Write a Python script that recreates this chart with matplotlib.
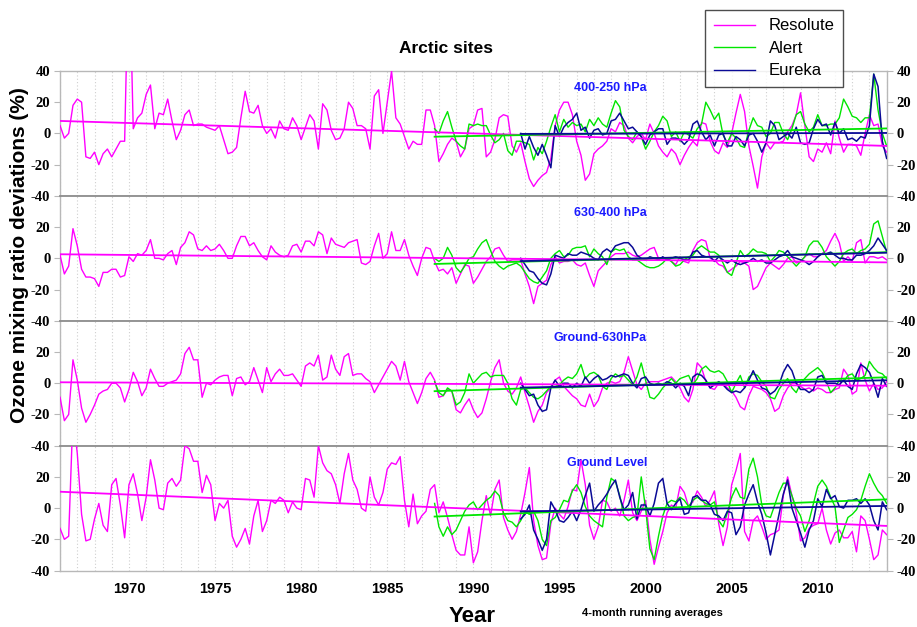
"""
Arctic sites: ozone mixing ratio deviations at Resolute, Alert and Eureka,
four pressure layers, 4-month running averages (values read off the chart).
"""

import numpy as np
import matplotlib
matplotlib.use("Agg")
import matplotlib.pyplot as plt
from matplotlib.ticker import MultipleLocator
from matplotlib.lines import Line2D

plt.rcParams["axes.unicode_minus"] = False
plt.rcParams["font.family"] = ["Liberation Sans", "DejaVu Sans"]

# quarterly samples, first value at 1966.0
START_RES = 1966.0
START_ALT = 1987.75
START_EUR = 1992.75
STEP = 0.25
END_YEAR = 2014.0

layers = ["400-250 hPa", "630-400 hPa", "Ground-630hPa", "Ground Level"]

# ---- 400-250 hPa ----
res_1 = [5, -3, 0, 18, 22, 20, -15, -16, -12, -20,
         -13, -10, -15, -10, -5, -5, 120, 3, 10, 13,
         25, 31, 3, 13, 12, 22, 8, -4, 2, 12,
         15, 5, 6, 6, 4, 3, 2, 5, -4, -13,
         -12, -9, 10, 27, 14, 13, 18, 5, 0, 3,
         -3, 8, 3, 2, 10, 5, -4, 4, 12, 8,
         -10, 19, 15, 2, -4, -3, 3, 20, 16, 5,
         5, 3, -10, 24, 28, 0, 20, 40, 10, 6,
         -2, -10, -5, -7, -7, 15, 15, 5, -18, -13,
         -7, -3, -5, -15, -10, 3, 5, 15, 16, -15,
         -12, -4, 10, 12, 11, -8, -12, -6, -18, -29,
         -34, -30, -27, -25, -16, 5, 15, 20, 20, 12,
         -5, -14, -30, -26, -13, -10, -8, -5, 3, 1,
         7, 5, -3, -6, -2, 0, -4, 6, 0, -8,
         -12, -15, -10, -13, -20, -14, -9, -5, -8, 7,
         6, -5, -11, -13, -6, -9, 0, 13, 25, 14,
         -8, -21, -35, -15, -6, -10, -6, -6, -5, 1,
         5, 12, 26, 5, -15, -18, -10, -12, -6, -13,
         8, -3, -12, -7, -7, -8, -14, 0, 12, 5,
         6, -8, -12]
alt_1 = [3, 0, 8, 14, 4, -5, -8, -10, 6, 5,
         6, 5, 5, -1, -6, -4, 0, -11, -14, -5,
         -5, -6, -7, -17, -9, -13, -5, 4, 12, 1,
         9, 4, 7, 5, 6, 1, 9, 5, 10, 6,
         4, 13, 21, 17, 2, -2, -4, 1, -2, -10,
         -5, 1, 5, 11, 8, -2, 1, -5, 1, -1,
         -3, 3, 6, 20, 15, 9, 13, -1, -6, 0,
         -3, -8, -9, 2, 10, 5, 4, -2, 0, 7,
         7, 0, -4, 3, 12, 14, 6, 1, 4, 12,
         5, 5, 6, 6, 10, 22, 17, 11, 10, 7,
         10, 10, 38, 15, 0, -8]
eur_1 = [0, -10, -2, -9, -14, -7, -14, -22, 5, -2,
         4, 7, 9, 13, 2, 4, -3, 2, 3, -1,
         0, 8, 9, 13, 8, 3, 4, 1, -2, -7,
         -1, 1, 3, 3, -7, -3, -3, -4, -7, -4,
         6, 8, 1, -4, -1, -8, -1, 0, -8, -8,
         -2, -4, -8, -1, 0, -5, -12, -6, 8, 5,
         -4, -2, 0, -3, 4, -6, -7, -6, 3, 9,
         5, 6, -1, 7, 0, 3, -4, -3, -5, -2,
         -3, 5, 38, 30, -5, -16]

# ---- 630-400 hPa ----
res_2 = [2, -10, -5, 19, 8, -7, -12, -12, -13, -18,
         -9, -9, -7, -7, -12, -11, 1, -2, 3, 2,
         5, 12, 0, 0, -1, 3, 5, -4, 7, 10,
         17, 15, 6, 5, 8, 5, 6, 9, 5, 0,
         0, 8, 14, 14, 8, 10, 5, 1, -1, 8,
         4, 2, 1, 2, 8, 9, 4, 11, 11, 8,
         17, 15, 3, 13, 9, 8, 7, 10, 11, 12,
         -3, -4, -2, 8, 16, 0, 3, 17, 5, 5,
         12, 2, -5, -11, 0, 7, 6, -2, -8, -7,
         -10, -6, -16, -10, -4, -5, -16, -12, -7, -2,
         1, 6, 7, 2, -2, -1, -1, -1, -10, -18,
         -29, -18, -16, -14, -4, 1, -3, -2, -2, -1,
         -4, -5, -3, -11, -18, -8, -5, -2, 1, 3,
         3, 3, 4, 2, 1, 2, 4, 6, 7, 0,
         -1, 0, -2, -4, 1, -2, -3, 5, 10, 12,
         11, 0, -1, -4, -5, -9, -7, -5, -2, -3,
         -5, -20, -18, -12, -6, -3, -5, -7, -4, 0,
         1, -3, -2, 1, 3, 1, 1, 3, 5, 11,
         16, 10, -2, 1, -2, 10, 12, -3, 1, 1,
         0, 1, -1]
alt_2 = [0, -2, 0, 7, 2, -6, -9, -5, 0, 1,
         6, 10, 12, 5, -2, -5, -7, -5, -4, -3,
         -5, -9, -13, -15, -16, -12, -8, 0, 3, 5,
         1, 2, 6, 7, 7, 8, 1, 6, 3, 1,
         -4, 4, 6, 5, 6, 1, -1, -1, -3, -5,
         -6, -6, -5, -3, 0, -2, -5, -4, -1, 1,
         2, 6, 8, 6, 4, 4, 2, -3, -9, -11,
         -3, 5, 1, 3, 6, 4, 4, 3, -2, 1,
         5, 4, 1, -2, -5, -2, 1, 8, 11, 11,
         7, 1, -2, -5, -2, 3, 5, 6, 3, 5,
         6, 9, 22, 24, 14, 4]
eur_2 = [0, -4, -8, -9, -13, -16, -17, -10, 2, 1,
         0, 3, 2, 2, 4, 3, 2, 0, -1, 4,
         6, 4, 8, 9, 10, 10, 7, 2, 0, -1,
         1, 0, -1, 1, -1, 0, 1, 0, -1, -1,
         4, 5, 2, 1, 1, -2, 1, -1, -3, -1,
         -3, -4, -3, -2, 0, -2, -1, -3, -3, -1,
         1, 2, 5, 1, 0, -1, -2, -4, -2, 1,
         3, 3, 4, 2, 0, 0, -1, -1, 2, 2,
         3, 5, 8, 13, 9, 5]

# ---- Ground-630hPa ----
res_3 = [-9, -24, -20, 15, 2, -16, -25, -20, -14, -7,
         -5, -4, 0, 0, -3, -12, -4, 7, 1, -8,
         -3, 9, 3, -2, -2, 0, 1, 2, 6, 19,
         23, 15, 15, -9, 0, -1, 2, 4, 5, 5,
         -8, 3, 4, -1, 1, 10, 2, -6, 10, 1,
         6, 9, 5, 5, 6, 2, -2, 11, 13, 11,
         18, 2, 4, 18, 9, 5, 17, 19, 5, 6,
         6, 3, 1, -6, -1, 4, 9, 14, 11, 2,
         14, 1, -6, -13, -6, 3, 7, 2, -9, -8,
         -4, -5, -17, -19, -14, -10, -17, -22, -19, -10,
         1, 10, 15, 0, -5, -7, -3, 4, -6, -15,
         -25, -18, -14, -6, -3, 2, 4, -2, -5, -8,
         -10, -14, -15, -7, -15, -11, -3, 0, 1, 0,
         1, 7, 17, 8, -1, -4, 0, 1, 1, 1,
         2, 3, 4, 1, -3, -9, -12, -4, 13, 10,
         1, -3, -4, 0, 0, -3, -5, -9, -15, -17,
         -8, -2, -3, -4, -6, -10, -18, -16, -8, -3,
         0, 0, -2, -4, -3, -5, -3, -4, -6, -6,
         -4, -3, 9, 5, -7, -5, 13, 2, -5, 0,
         -4, -3, 1]
alt_3 = [1, -6, -8, -3, -5, -14, -12, -6, 6, 0,
         3, 6, 7, 4, 5, 5, 5, 0, -10, -14,
         -4, -3, -6, -9, -10, -8, -5, -2, -2, -1,
         2, 4, 3, 6, 12, 3, 6, 7, 5, -2,
         -4, 3, 6, 4, 5, 2, -1, 4, 13, 2,
         -9, -10, -7, -3, 0, 3, 0, 3, 4, 5,
         -1, 3, 9, 11, 8, 7, 8, 6, 1, -6,
         0, 5, -3, 4, 6, 5, 1, -2, -9, -10,
         -4, 0, 3, -3, -6, 0, 3, 6, 8, 10,
         7, 1, -6, -3, 2, 1, 5, 6, 2, 3,
         5, 14, 10, 7, 6, 3]
eur_3 = [0, -4, -8, -7, -14, -18, -17, -3, 2, -2,
         0, 0, -3, 0, -2, 4, 0, 3, 5, 2,
         3, 5, 4, 5, 6, 5, 0, -3, 3, 4,
         0, -1, 0, -1, 1, 0, -3, 0, -2, -8,
         4, 6, 5, 2, -3, -1, 1, -1, -4, -6,
         -5, -6, -3, 2, 8, 2, -3, -4, -7, -5,
         -1, 7, 12, 8, 0, -4, -4, -6, -4, 4,
         5, 0, 0, 0, -1, 2, -2, -4, 6, 12,
         10, 7, 0, -9, 3, -2]

# ---- Ground Level ----
res_4 = [-13, -20, -18, 60, 35, -4, -21, -20, -7, 3,
         -11, -15, 15, 19, 2, -19, 15, 22, 9, -8,
         7, 31, 18, 0, -1, 16, 19, 14, 18, 40,
         38, 30, 30, 10, 21, 15, -8, 3, 0, 5,
         -18, -25, -20, -13, -23, -5, 5, -15, -8, 5,
         3, 7, 5, -3, 4, 0, -1, 19, 18, 7,
         40, 29, 24, 22, 15, 3, 22, 35, 18, 12,
         0, -2, 20, 7, 2, 10, 25, 29, 28, 33,
         5, -12, 9, -10, -5, -2, 12, 15, -3, 4,
         -6, -17, -27, -30, -30, -12, -35, -28, -8, 8,
         -5, 12, 18, -6, -14, -20, -15, -4, 10, 26,
         -8, -24, -33, -32, -10, 0, -4, -7, 1, 12,
         11, 31, 15, -11, -20, -12, 5, 4, -2, 0,
         -5, 5, 18, -3, -8, -2, 5, -20, -36, -25,
         -15, -3, 2, 0, 14, 10, 1, 4, 11, 7,
         1, 5, 11, -10, -24, -12, 15, 24, 35, -15,
         -21, -8, -5, -12, -20, -17, -16, -14, 8, 20,
         8, -3, -21, -19, -13, -11, -10, 0, -14, -23,
         -16, -14, -19, -19, -15, -28, -5, -8, -20, -33,
         -30, -14, -17]
alt_4 = [3, -12, -18, -12, -17, -14, -8, -2, 2, 4,
         -1, 2, 5, 7, 11, 8, -3, -8, -9, -12,
         -8, -2, -4, -2, -8, -20, -24, -8, -6, -1,
         5, 4, 11, 15, 10, 1, -5, -8, -10, -12,
         7, 19, 17, 8, -5, -8, -6, -5, 20, 0,
         -26, -33, -18, -5, 3, 5, 4, 7, 5, 1,
         5, 7, 5, 3, 2, 4, -8, -12, -3, 7,
         13, 7, 6, 25, 32, 20, 2, -5, -6, 2,
         10, 16, 16, 8, 0, -5, -15, -8, 3, 14,
         18, 14, 7, 1, -22, -14, -6, -4, -1, 5,
         14, 22, 16, 11, 8, 3]
eur_4 = [-7, -4, 2, -14, -20, -27, -20, 4, -1, -8,
         -9, -6, -2, -8, -1, 8, 16, -2, 2, 5,
         9, 14, 18, 7, -1, 2, 10, -7, 2, 2,
         -5, 3, 16, 19, 3, -1, 3, 6, -4, -3,
         7, 8, 5, 5, 2, -4, -5, -8, -2, -3,
         -17, -12, 2, 9, 15, 4, -4, -16, -30, -17,
         -4, 9, 18, 0, -8, -16, -25, -14, -8, 6,
         1, 12, 6, 8, 1, 0, 5, 5, 6, 3,
         6, 2, -8, -14, 4, -1]

# linear trends: value at series start and at 2014
trend_res = [(8.0, -8.0), (2.6, -2.6), (0.6, -1.6), (10.5, -11.4)]
trend_alt = [(-2.1, 3.2), (-3.6, 3.9), (-5.1, 3.8), (-5.4, 5.6)]
trend_eur = [(-0.3, 0.3), (-1.8, 3.6), (-2.8, 1.9), (-2.1, 1.4)]

resolute = [res_1, res_2, res_3, res_4]
alert = [alt_1, alt_2, alt_3, alt_4]
eureka = [eur_1, eur_2, eur_3, eur_4]

C_RES = "#ff00ff"
C_ALT = "#00e600"
C_EUR = "#0a0a96"
C_LAYER = "#1a1aff"
C_FRAME = "#b8b8b8"
C_SPLIT = "#8c8c8c"

fig = plt.figure(figsize=(9.17, 6.27), dpi=100)
axes = fig.subplots(4, 1, sharex=True, gridspec_kw=dict(hspace=0))
fig.subplots_adjust(left=0.0655, right=0.9669, top=0.8868, bottom=0.09)


def years(start, n):
    return start + STEP * np.arange(n)


for i, ax in enumerate(axes):
    r, a, e = resolute[i], alert[i], eureka[i]
    ax.plot(years(START_RES, len(r)), r, color=C_RES, lw=1.0, zorder=3)
    ax.plot(years(START_ALT, len(a)), a, color=C_ALT, lw=1.0, zorder=4)
    ax.plot(years(START_EUR, len(e)), e, color=C_EUR, lw=1.1, zorder=5)

    ax.plot([START_RES, END_YEAR], trend_res[i], color=C_RES, lw=1.3, zorder=6)
    ax.plot([START_ALT, END_YEAR], trend_alt[i], color=C_ALT, lw=1.3, zorder=6)
    ax.plot([START_EUR, END_YEAR], trend_eur[i], color=C_EUR, lw=1.3, zorder=7)

    ax.set_xlim(1966, 2014)
    ax.set_ylim(-40, 40)
    ax.xaxis.set_major_locator(MultipleLocator(5))
    ax.xaxis.set_minor_locator(MultipleLocator(1))
    ax.grid(True, axis="x", which="both", color="#cfcfcf",
            linestyle=(0, (1, 2)), lw=0.8, zorder=0)

    ax.set_yticks([-40, -20, 0, 20, 40] if i == 0 else [-40, -20, 0, 20])
    ax.tick_params(axis="y", left=True, right=True, labelleft=True,
                   labelright=True, direction="out", length=4,
                   color=C_FRAME, pad=3)
    for lab in ax.get_yticklabels():
        lab.set_fontfamily("Liberation Serif")
        lab.set_fontweight("bold")
        lab.set_fontsize(10.5)
    ax.tick_params(axis="x", which="both", length=0, pad=8,
                   labelsize=10.5)

    for side in ("left", "right", "top", "bottom"):
        ax.spines[side].set_color(C_FRAME)
        ax.spines[side].set_linewidth(1.0)
    if i > 0:
        ax.spines["top"].set_color(C_SPLIT)
        ax.spines["top"].set_linewidth(1.3)

    ax.text(0.71, 0.86, layers[i], transform=ax.transAxes, ha="right",
            va="center", color=C_LAYER, fontsize=9, fontweight="bold",
            zorder=10)

for lab in axes[-1].get_xticklabels():
    lab.set_fontweight("bold")

fig.text(0.486, 0.923, "Arctic sites", ha="center", va="center",
         fontsize=12.5, fontweight="bold")
fig.text(0.021, 0.593, "Ozone mixing ratio deviations (%)", rotation=90,
         ha="center", va="center", fontsize=15, fontweight="bold")
fig.text(0.515, 0.0, "Year", ha="center", va="bottom",
         fontsize=16, fontweight="bold")
fig.text(0.711, 0.022, "4-month running averages", ha="center",
         va="center", fontsize=8, fontweight="bold")

handles = [Line2D([], [], color=C_RES, lw=1.0),
           Line2D([], [], color=C_ALT, lw=1.0),
           Line2D([], [], color=C_EUR, lw=1.0)]
leg = fig.legend(handles, ["Resolute", "Alert", "Eureka"],
                 loc="upper left", bbox_to_anchor=(0.769, 0.984),
                 fontsize=12, frameon=True, fancybox=False,
                 handlelength=2.5, labelspacing=0.45, borderpad=0.5,
                 handletextpad=0.8, borderaxespad=0)
leg.get_frame().set_edgecolor("#202020")
leg.get_frame().set_linewidth(1.0)

fig.savefig("out.png", dpi=100)
